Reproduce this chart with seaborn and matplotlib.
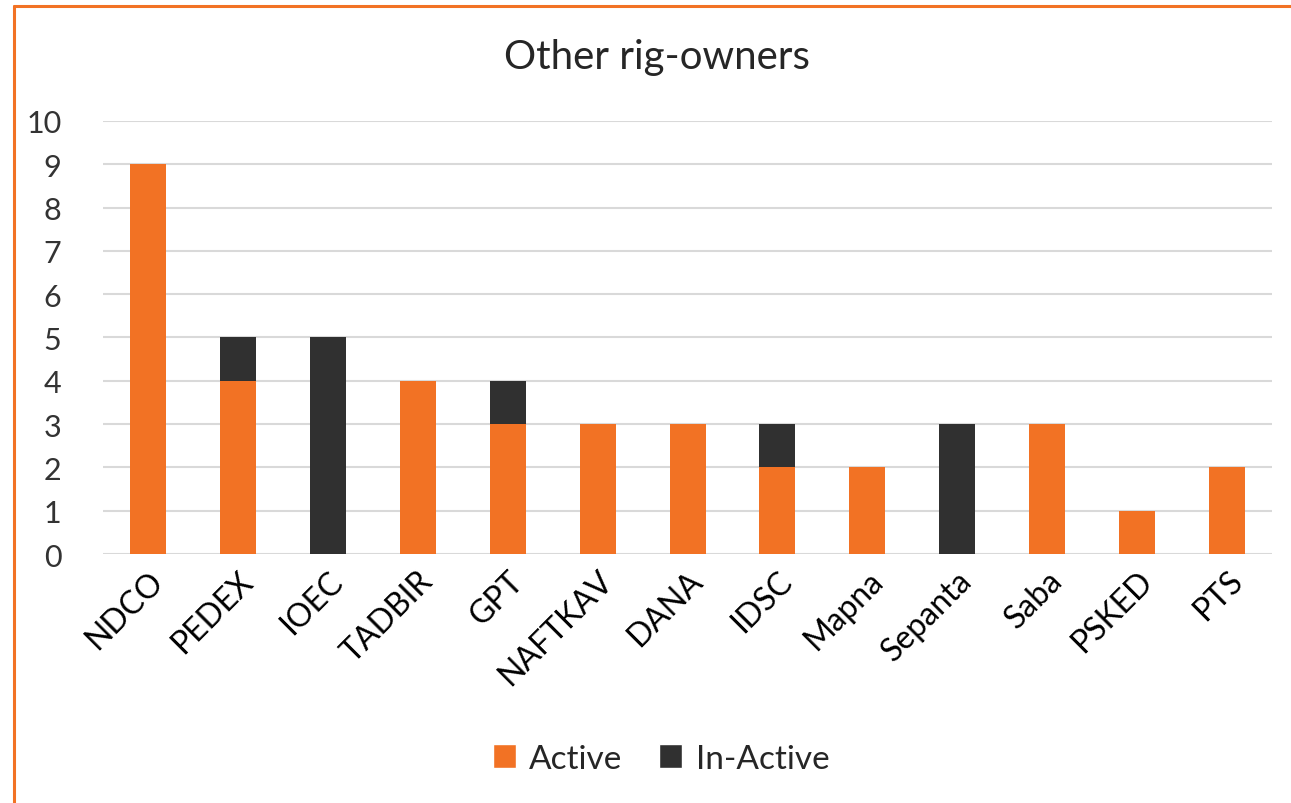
import numpy as np
import pandas as pd
import matplotlib.pyplot as plt
import seaborn as sns
from matplotlib.patches import Patch
from matplotlib.lines import Line2D

owners = ["NDCO", "PEDEX", "IOEC", "TADBIR", "GPT", "NAFTKAV", "DANA",
          "IDSC", "Mapna", "Sepanta", "Saba", "PSKED", "PTS"]
active = [9, 4, 0, 4, 3, 3, 3, 2, 2, 0, 3, 1, 2]
inactive = [0, 1, 5, 0, 1, 0, 0, 1, 0, 3, 0, 0, 0]

orange = "#F27224"
dark = "#303030"

df = pd.DataFrame({"owner": owners, "Active": active, "In-Active": inactive})
df["total"] = df["Active"] + df["In-Active"]

sns.set_style("white")
plt.rcParams["font.family"] = ["Lato", "DejaVu Sans"]

fig = plt.figure(figsize=(12.91, 8.04), dpi=100)
ax = fig.add_axes([0.0798, 0.3097, 0.9055, 0.5386])

# stacked: total in dark, active drawn over it
sns.barplot(data=df, x="owner", y="total", color=dark, width=0.4,
            saturation=1, ax=ax, zorder=3, linewidth=0, edgecolor="none")
sns.barplot(data=df, x="owner", y="Active", color=orange, width=0.4,
            saturation=1, ax=ax, zorder=4, linewidth=0, edgecolor="none")

ax.set_ylim(0, 10)
ax.set_xlim(-0.5, len(owners) - 0.5)
ax.set_yticks(range(0, 11))
ax.yaxis.grid(True, color="#d9d9d9", linewidth=1.5, zorder=0)
ax.set_axisbelow(True)
for s in ax.spines.values():
    s.set_visible(False)
ax.set_xlabel("")
ax.set_ylabel("")
ax.tick_params(axis="both", length=0, colors="#333333")
ax.tick_params(axis="y", pad=30, labelsize=22)
ax.tick_params(axis="x", pad=8, labelsize=23)
plt.setp(ax.get_xticklabels(), rotation=45, ha="right", rotation_mode="anchor",
         color="black")

fig.text(0.509, 0.929, "Other rig-owners", ha="center", va="center", fontsize=29)

handles = [Patch(facecolor=orange, label="Active"),
           Patch(facecolor=dark, label="In-Active")]
fig.legend(handles=handles, loc="center", bbox_to_anchor=(0.512, 0.055), ncol=2,
           frameon=False, fontsize=24, handlelength=0.7, handleheight=0.7,
           handletextpad=0.4, columnspacing=1.1)

# orange chart border (cropped on right/bottom)
fig.add_artist(Line2D([0.0105, 1.0], [0.9915, 0.9915], color=orange, lw=2.2,
                      transform=fig.transFigure))
fig.add_artist(Line2D([0.0105, 0.0105], [0.0, 0.9915], color=orange, lw=2.2,
                      transform=fig.transFigure))

fig.savefig("out.png", dpi=100, facecolor="white")
